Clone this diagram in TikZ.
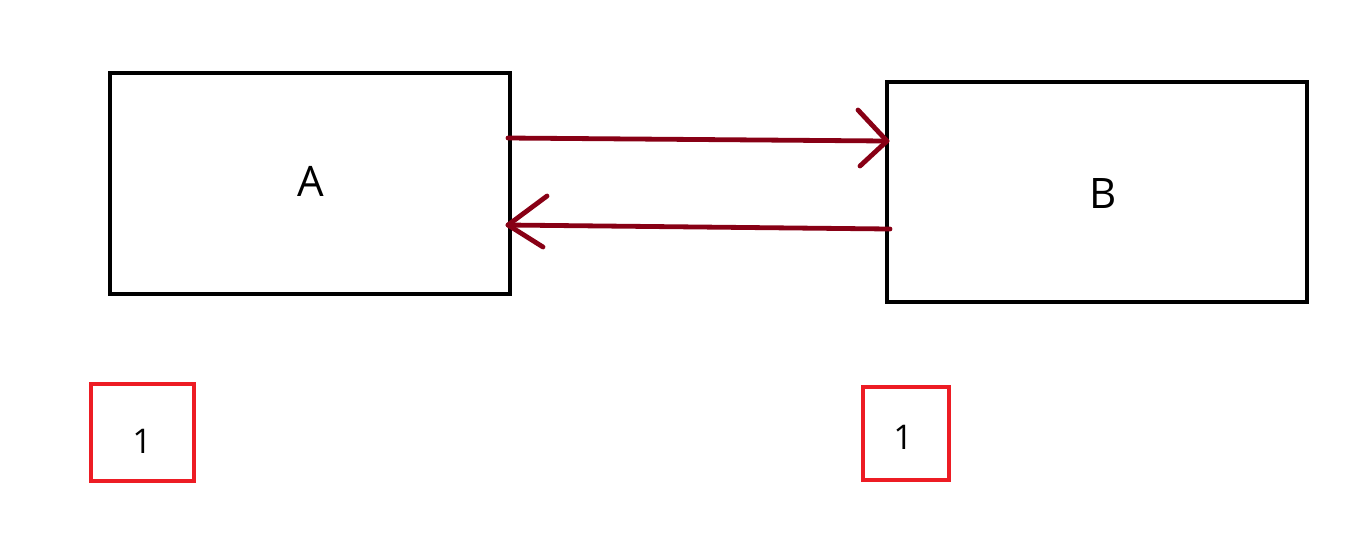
\documentclass[tikz,border=0pt]{standalone}
\usepackage{fontspec}
\setmainfont{Open Sans}
\definecolor{darkred}{HTML}{880015}
\definecolor{paintred}{HTML}{ED1C24}
\begin{document}
\begin{tikzpicture}[x=0.5pt,y=-0.5pt,
  blackbox/.style={draw=black,line width=2pt,inner sep=0pt},
  redbox/.style={draw=paintred,line width=1.9pt,inner sep=0pt},
  conn/.style={draw=darkred,line width=2.4pt,line cap=round,line join=round},
  lbl/.style={font=\fontsize{21}{24}\selectfont,inner sep=0pt},
  num/.style={font=\fontsize{17}{20}\selectfont,inner sep=0pt}]
\useasboundingbox (0,0) rectangle (1352,538);
\fill[white] (0,0) rectangle (1352,538);
% boxes
\draw[blackbox] (110,73) rectangle (510,294);
\draw[blackbox] (887,82) rectangle (1307,302);
\coordinate (Aout) at (508,138);
\coordinate (Bin) at (887,141);
\coordinate (Bout) at (890,229);
\coordinate (Ain) at (508,225);
\node[lbl] (A) at (311,181) {A};
\node[lbl] (B) at (1103,193) {B};
% red boxes
\draw[redbox] (91,384) rectangle (194,481);
\draw[redbox] (863,387) rectangle (949,480);
\node[num] (n1) at (142,441) {1};
\node[num] (n2) at (903,437) {1};
% arrows
\coordinate (h1a) at (858,110);
\coordinate (h1b) at (860,166);
\coordinate (h2a) at (547,196);
\coordinate (h2b) at (543,247);
\draw[conn] (Aout) -- (Bin);
\draw[conn] (h1a) -- (Bin) -- (h1b);
\draw[conn] (Bout) -- (Ain);
\draw[conn] (h2a) -- (Ain) -- (h2b);
\end{tikzpicture}
\end{document}
